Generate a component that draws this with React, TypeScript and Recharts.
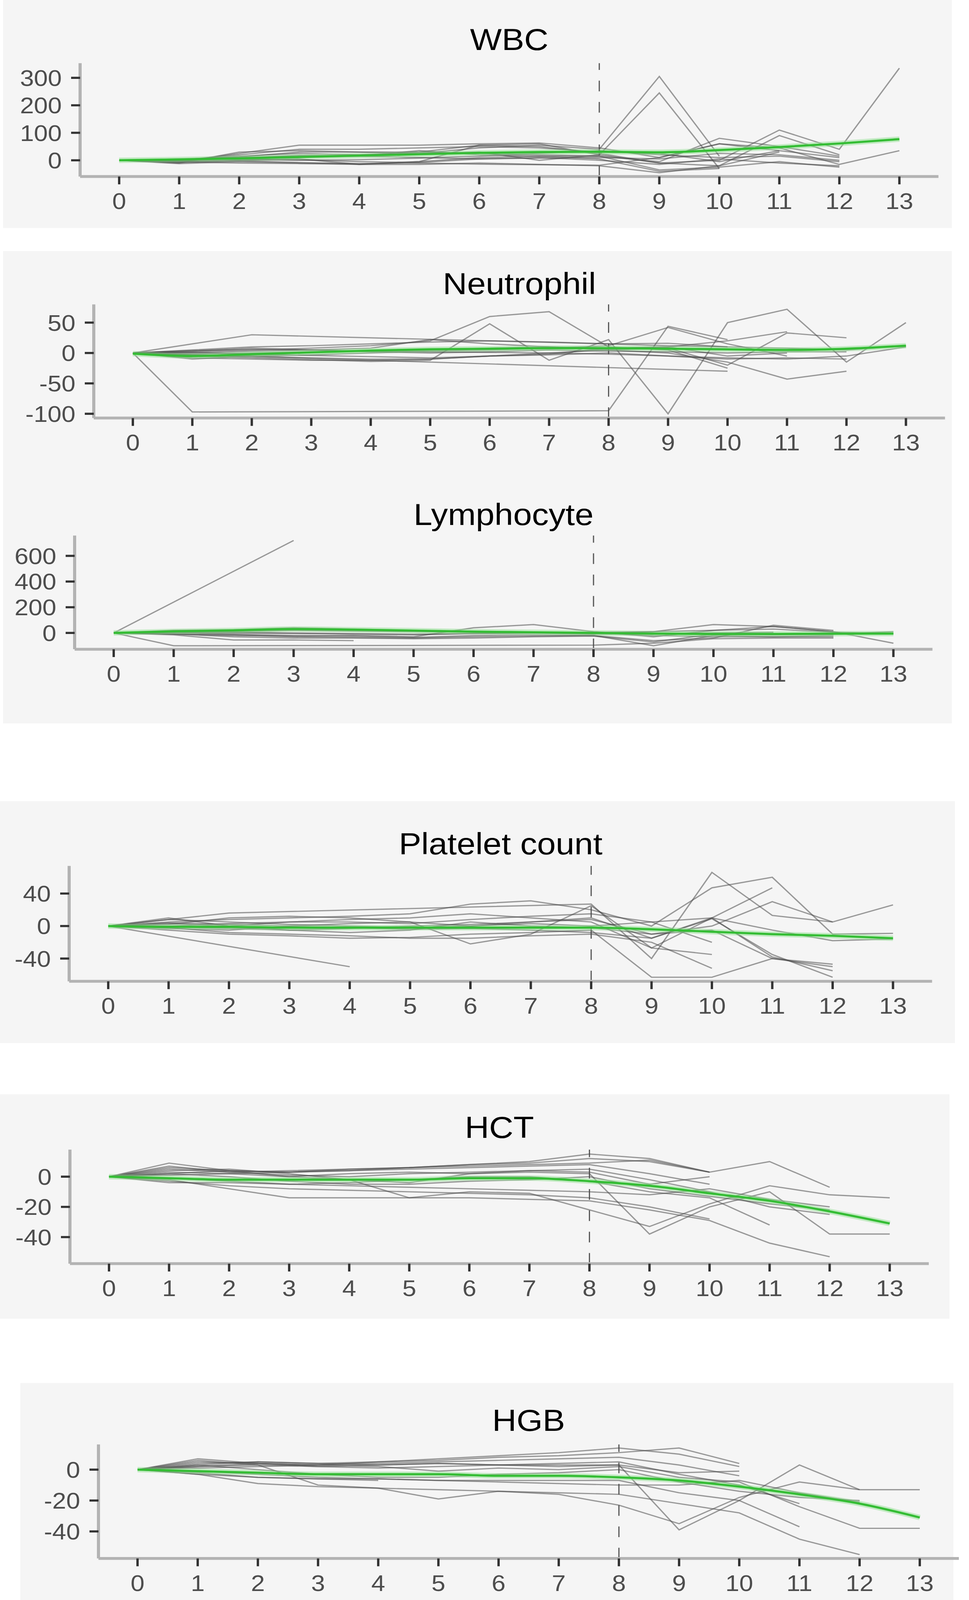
import React from 'react';
import { LineChart, Line, XAxis, YAxis, ReferenceLine } from 'recharts';

const _ = null;

// follow-up visits, shared by every panel
const visits = [0, 1, 2, 3, 4, 5, 6, 7, 8, 9, 10, 11, 12, 13];

// WBC, % change from baseline
const wbcLines = [
  [0, -5, 25, 55, 55, 55, 60, 63, 45, 10, 60, 35, 10],
  [0, -10, 30, 35, 30, 25, 45, 55, 40, 305, 15],
  [0, 2, 15, 25, 20, 30, 55, 60, 20, 245, -30],
  [0, -12, -5, -10, -15, -15, -10, -15, -20, -45, -20, 30],
  [0, 5, 10, 15, 20, 25, 30, 0, 20, -10, 0, 110, 40, 335],
  [0, -8, 0, 5, -15, -5, 55, 50, 25, -10, -20, 90, 20],
  [0, 0, 5, 10, 15, 35, 20, 15, 15, -5, 80, 50, 15],
  [0, -5, -2, -8, -12, -10, -14, -16, -18, 10, 60, 45, -15, 35],
  [0, 3, 12, 30, 30, 30, 25, 20, 15, -35, -25, -5, -25],
  [0, -3, 8, 18, 15, 10, 5, 8, 10, 5, 25, 20, 0],
  [0, 0, 20, 40, 40, 45, 50, 45, 30, 25, -5, 35],
  [0, -6, -10, -12, -14, -5, 10, 15, 5, -40, -30],
  [0, 2, 5, 0, 2, 8, 15, 25, 35, 20, 10, 15, -5],
  [0, -4, 0, 2, -5, -8, 5, 10, 0, -15, 5, -10, -20],
];
const wbcTrend = [0, 3, 7, 12, 17, 22, 27, 30, 31, 29, 37, 48, 61, 77];
const wbcTicks = [0, 100, 200, 300];

const neutrophilLines = [
  [0, -97, _, _, _, _, _, _, -95, 44, 22],
  [0, -5, _, _, -14, -12, 48, -12, 22, -100, 50, 72, -15, 50],
  [0, _, 30, _, _, _, _, _, 15, 16, 10],
  [0, 2, 5, 8, 12, 20, 60, 68, 10, 5, -25],
  [0, _, _, _, _, _, _, _, _, _, -30],
  [0, -3, -5, -8, -10, -10, -5, 0, 5, 0, -15, -43, -30],
  [0, 3, 8, 5, 3, 5, 8, 10, 5, 8, -20, 33, 25],
  [0, -10, -5, -3, 0, 3, 5, 8, 12, 42, 15, -5],
  [0, 5, 10, 12, 15, 18, 20, 18, 15, 12, 10, 8, 5, 12],
  [0, -2, 0, 2, 3, 2, 1, 0, -2, -5, -8, -10, -5, 10],
  [0, 0, 3, 5, 8, 22, 15, 10, 8, 10, 20, 35],
  [0, -8, -10, -12, -12, -10, -5, -3, 0, -5, -10, -8, -10],
  [0, 4, 6, 5, 2, 0, 2, 5, 3, 2, 0, 2, 2],
  [0, 1, -2, -4, -6, -8, -5, -2, 8, 10, -5, 0],
];
const neutrophilTrend = [-1, -5, -2, 1, 4, 6, 7, 8, 8, 7, 6, 5, 7, 12];
const neutrophilTicks = [-100, -50, 0, 50];

const lymphocyteLines = [
  [0, _, _, 720],
  [0, -100, _, _, _, _, _, _, -95, -80, -45, -40, -40],
  [0, -10, -20, -25, -20, -30, 40, 65, 10, -30, 20, 50, 10],
  [0, -15, -55, -55, -60],
  [0, 5, -10, -20, -25, -35, -20, -15, -20, -100, -20, -30, -30],
  [0, 10, 5, 0, -5, -10, -5, 0, -5, 10, 65, 50, 10, -80],
  [0, -5, -15, -30, -35, -40, -30, -25, -20, -60, -40, 60, 20],
  [0, 15, 10, 20, 15, 10, 5, 0, -10, -5, 0, 5],
  [0, -8, -30, -40, -40, -45, -40, -30, -25, -70, -10, -15, -10, 10],
  [0, 5, 0, -5, -10, -15, -5, 0, 5, 10, 20, 30, 5, -5],
  [0, 20, 25, 40, 30, 20, 10, 5, 0, -20, -30, -30, -20],
];
const lymphocyteTrend = [0, 12, 20, 30, 25, 18, 10, 5, 0, -5, -8, -8, -6, -5];
const lymphocyteTicks = [0, 200, 400, 600];

const plateletLines = [
  [0, _, _, _, -50],
  [0, 10, 0, 5, 8, 10, 15, 10, 5, -27, 10, 47],
  [0, _, 16, _, _, _, _, _, 27, -40, 66, 13, 5, 26],
  [0, 5, 8, 10, 12, 15, 27, 31, 20, 0, 47, 60, -10, -9],
  [0, -3, -5, 0, 3, 5, -22, -10, 25, -27, -35],
  [0, -5, -10, -12, -15, -14, -10, -8, -5, -63, -63, -40, -47],
  [0, 8, 5, 2, 0, -2, 0, 5, 10, -15, 9, -35, -63],
  [0, -2, -8, -10, -12, -15, -15, -12, -10, -20, -52],
  [0, 3, 0, -5, -8, -5, 5, 0, -2, -10, -5, -40, -50],
  [0, 2, 10, 12, 10, 5, 0, 3, 0, 5, 10, -5, -18, -16],
  [0, -1, -3, -5, -3, 0, 2, 5, 8, -10, 0, 30, 5],
  [0, 4, 2, 0, -2, -4, -3, -5, -8, -15, 10, -38, -55],
  [0, 0, 3, 5, 5, 3, 8, 12, 15, 5, -20],
];
const plateletTrend = [0, -1, -1, -2, -2, -2, -2, -2, -2, -4, -7, -10, -12, -15];
const plateletTicks = [-40, 0, 40];

const hctLines = [
  [0, 9, 4, 3, 5, 6, 8, 10, 15, 12, 3, 10, -7],
  [0, 5, 3, 4, 5, 6, 8, 9, 12, 10, 3],
  [0, 2, 4, 3, 4, 6, 7, 8, 9, 11, 3],
  [0, -2, -8, -14, -14, -14, -14, -15, -16, -22, -29, -44, -53],
  [0, 3, 2, 0, -2, -14, -10, -11, -22, -33, -18, -6, -12, -14],
  [0, -1, -3, -5, -4, -2, 0, 0, -3, -10, -14, -32],
  [0, 6, 4, 0, 2, 3, 2, 3, 2, -38, -20, -10, -38, -38],
  [0, 4, 5, 2, -2, -4, 2, 4, 3, -5, 0],
  [0, -4, -4, -5, -6, -7, -8, -9, -10, -12, -8, -15, -20],
  [0, 2, 0, -3, -5, -5, -3, -2, 0, -8, -13, -18, -22],
  [0, 7, 3, 1, 0, 2, 3, 4, 5, -2, -10, -20, -25],
  [0, 1, 2, 3, 4, 5, 6, 7, 8, 2, -5],
  [0, -3, -6, -8, -9, -10, -11, -12, -14, -20, -28],
];
const hctTrend = [0, -1, -2, -2, -2, -2, -1, -1, -3, -6, -11, -16, -23, -31];
const hctTicks = [-40, -20, 0];

const hgbLines = [
  [0, 7, 4, 3, 5, 7, 9, 11, 14, 10, 2],
  [0, 4, 5, 4, 5, 6, 8, 9, 11, 14, 4],
  [0, 3, 5, 4, 3, 4, 3, 3, 3, -2, -1],
  [0, -3, -9, -11, -12, -13, -14, -15, -16, -22, -28, -45, -55],
  [0, 2, 3, -10, -12, -19, -14, -16, -23, -35, -18, -8, -13, -13],
  [0, -1, -3, -5, -6, -7, -7, -7, -7, -15, -20, -37],
  [0, 5, 4, 2, 3, 4, 3, 2, 3, -39, -20, 3, -13],
  [0, 2, 4, 3, 2, -1, 1, 0, 2, -5, -8, -24, -38, -38],
  [0, -2, -5, -6, -6, -7, -8, -9, -10, -10, -7, -15, -21],
  [0, 3, 0, -3, -5, -5, -3, -2, 0, -8, -14, -18, -20],
  [0, 6, 3, 2, 1, 2, 3, 4, 5, -3, -10, -22],
  [0, 1, 2, 3, 4, 5, 6, 7, 8, 3, -4],
  [0, -3, -5, -6, -7],
];
const hgbTrend = [0, -1, -2, -3, -3, -3, -4, -4, -5, -7, -11, -16, -22, -31];
const hgbTicks = [-40, -20, 0];

const FONT = '"Liberation Sans", Arial, sans-serif';
const PAGE_W = 2480;
const PAGE_H = 4505;
const Y_AXIS_W = 240;
const X_AXIS_H = 130;
const PAD = 100; // distance from axis line to first / last tick

function buildRows(lines: (number | null)[][], trend: number[]) {
  return visits.map((t, i) => {
    const row: any = { t, trend: trend[i] };
    lines.forEach((l, j) => {
      row['s' + j] = l[i] ?? null;
    });
    return row;
  });
}

function Panel(props: any) {
  const { title, lines, trend, yTicks, yDomain, tick0, step, plotTop, plotBottom, titleY } = props;
  const rows = buildRows(lines, trend);
  const axisLeft = tick0 - PAD;
  const plotW = step * 13 + PAD * 2;
  const plotH = plotBottom - plotTop;
  const xDomain = [-PAD / step, 13 + PAD / step];
  const tickStyle = { fill: '#4d4d4d', fontSize: 64, fontFamily: FONT };

  return (
    <>
      <div
        style={{
          position: 'absolute', left: axisLeft, top: titleY - 42, width: plotW,
          textAlign: 'center', fontFamily: FONT, fontSize: 86, lineHeight: '86px', color: '#000',
        }}
      >
        {title}
      </div>
      <div style={{ position: 'absolute', left: axisLeft - Y_AXIS_W, top: plotTop - 20 }}>
        <LineChart
          width={Y_AXIS_W + plotW + 20}
          height={plotH + 20 + X_AXIS_H}
          data={rows}
          margin={{ top: 20, right: 20, bottom: 0, left: 0 }}
        >
          <XAxis
            dataKey="t" type="number" domain={xDomain} ticks={visits} allowDataOverflow interval={0}
            height={X_AXIS_H} tickSize={22} tickMargin={24} tick={tickStyle}
            axisLine={{ stroke: '#b3b3b3', strokeWidth: 8 }}
            tickLine={{ stroke: '#333', strokeWidth: 6 }}
          />
          <YAxis
            type="number" domain={yDomain} ticks={yTicks} allowDataOverflow interval={0}
            width={Y_AXIS_W} tickSize={23} tickMargin={24} tick={tickStyle}
            axisLine={{ stroke: '#b3b3b3', strokeWidth: 8 }}
            tickLine={{ stroke: '#333', strokeWidth: 6 }}
          />
          <ReferenceLine x={8} stroke="#555" strokeWidth={3} strokeDasharray="30 30" />
          {lines.map((_l: any, j: number) => (
            <Line
              key={j} dataKey={'s' + j} type="linear" stroke="#4a4a4a" strokeOpacity={0.55}
              strokeWidth={3.5} dot={false} connectNulls isAnimationActive={false}
            />
          ))}
          <Line dataKey="trend" type="monotone" stroke="#8fe08f" strokeOpacity={0.5}
            strokeWidth={15} dot={false} isAnimationActive={false} />
          <Line dataKey="trend" type="monotone" stroke="#34bd34" strokeWidth={6}
            dot={false} isAnimationActive={false} />
        </LineChart>
      </div>
    </>
  );
}

function Backdrop({ x, y, w, h }: any) {
  return <div style={{ position: 'absolute', left: x, top: y, width: w, height: h, background: '#f5f5f5' }} />;
}

export default function App() {
  // lay the figure out in reference pixels and fit it to whatever viewport we get
  const sx = typeof window !== 'undefined' && window.innerWidth ? window.innerWidth / PAGE_W : 1;
  const sy = typeof window !== 'undefined' && window.innerHeight ? window.innerHeight / PAGE_H : 1;

  return (
    <div
      style={{
        position: 'fixed', left: 0, top: 0, width: PAGE_W, height: PAGE_H, background: '#fff',
        overflow: 'hidden', transform: `scale(${sx}, ${sy})`, transformOrigin: '0 0',
      }}
    >
      <Backdrop x={8} y={0} w={2428} h={642} />
      <Backdrop x={8} y={707} w={2428} h={1330} />
      <Backdrop x={0} y={2256} w={2444} h={681} />
      <Backdrop x={0} y={3081} w={2430} h={632} />
      <Backdrop x={52} y={3894} w={2388} h={611} />

      <Panel title="WBC" lines={wbcLines} trend={wbcTrend} yTicks={wbcTicks} yDomain={[-59, 353]}
        tick0={305} step={153.6} plotTop={178} plotBottom={497} titleY={110} />
      <Panel title="Neutrophil" lines={neutrophilLines} trend={neutrophilTrend} yTicks={neutrophilTicks}
        yDomain={[-107, 80]} tick0={340} step={152.2} plotTop={857} plotBottom={1177} titleY={797} />
      <Panel title="Lymphocyte" lines={lymphocyteLines} trend={lymphocyteTrend} yTicks={lymphocyteTicks}
        yDomain={[-127, 758]} tick0={291} step={153.5} plotTop={1508} plotBottom={1828} titleY={1447} />
      <Panel title="Platelet count" lines={plateletLines} trend={plateletTrend} yTicks={plateletTicks}
        yDomain={[-68, 74]} tick0={277} step={154.5} plotTop={2438} plotBottom={2763} titleY={2374} />
      <Panel title="HCT" lines={hctLines} trend={hctTrend} yTicks={hctTicks}
        yDomain={[-57.6, 17.9]} tick0={279} step={153.7} plotTop={3237} plotBottom={3558} titleY={3173} />
      <Panel title="HGB" lines={hgbLines} trend={hgbTrend} yTicks={hgbTicks}
        yDomain={[-57.5, 16.3]} tick0={352} step={154} plotTop={4067} plotBottom={4388} titleY={3998} />
    </div>
  );
}
